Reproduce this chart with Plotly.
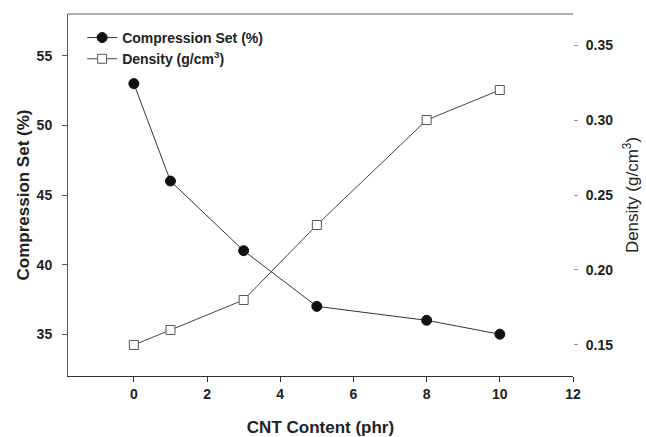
import plotly.graph_objects as go

cnt = [0, 1, 3, 5, 8, 10]
compression_set = [53, 46, 41, 37, 36, 35]
density = [0.15, 0.16, 0.18, 0.23, 0.30, 0.32]

x_ticks = [0, 2, 4, 6, 8, 10, 12]
y1_ticks = [35, 40, 45, 50, 55]
y2_ticks = [0.15, 0.20, 0.25, 0.30, 0.35]
y2_labels = ["0.15", "0.20", "0.25", "0.30", "0.35"]

FONT = "Liberation Sans, Arial, sans-serif"

fig = go.Figure()
fig.add_trace(go.Scatter(
    x=cnt, y=compression_set, name="<b>Compression Set (%)</b>",
    mode="lines+markers",
    line=dict(color="#333333", width=1),
    marker=dict(symbol="circle", size=10, color="#111111",
                line=dict(color="#111111", width=1)),
    yaxis="y"))
fig.add_trace(go.Scatter(
    x=cnt, y=density, name="<b>Density (g/cm<sup>3</sup>)</b>",
    mode="lines+markers",
    line=dict(color="#444444", width=1),
    marker=dict(symbol="square", size=9, color="white",
                line=dict(color="#555555", width=1)),
    yaxis="y2"))

fig.update_layout(
    width=646, height=437,
    margin=dict(l=68, r=73, t=14, b=61),
    paper_bgcolor="white", plot_bgcolor="white",
    font=dict(family=FONT, color="#222222"),
    showlegend=True,
    legend=dict(x=0.028, y=0.978, xanchor="left", yanchor="top",
                bgcolor="rgba(0,0,0,0)", font=dict(size=14, color="#222222"),
                tracegroupgap=0, itemwidth=30),
    xaxis=dict(range=[-1.8, 12], tickvals=x_ticks, ticktext=[str(v) for v in x_ticks],
               showgrid=False, zeroline=False, showline=True, linecolor="#333333",
               linewidth=1, ticks="outside", ticklen=5, tickcolor="#333333",
               automargin=False,
               tickfont=dict(size=14, family=FONT, color="#222222", weight="bold"),
               title=dict(text="<b>CNT Content (phr)</b>", font=dict(size=17), standoff=21)),
    yaxis=dict(range=[32, 58], tickvals=y1_ticks, ticktext=[str(v) for v in y1_ticks],
               showgrid=False, zeroline=False, showline=True, linecolor="#555555",
               linewidth=1, ticks="outside", ticklen=5, tickcolor="#555555",
               ticklabelstandoff=7, automargin=False,
               tickfont=dict(size=14, family=FONT, color="#222222", weight="bold"),
               title=dict(text="<b>Compression Set (%)</b>", font=dict(size=17), standoff=2)),
    yaxis2=dict(range=[0.1293, 0.3707], tickvals=y2_ticks, ticktext=y2_labels,
                overlaying="y", side="right",
                showgrid=False, zeroline=False, showline=False,
                ticks="outside", ticklen=4, tickcolor="#999999",
                ticklabelstandoff=5, automargin=False,
                tickfont=dict(size=14, family=FONT, color="#222222", weight="bold"),
                title=dict(text="Density (g/cm<sup>3</sup>)", font=dict(size=17), standoff=13)),
    shapes=[dict(type="line", xref="paper", yref="paper", x0=0, x1=1, y0=1, y1=1,
                 line=dict(color="#999999", width=1.5))],
)

fig.write_html("out.html", config={"displayModeBar": False},
               post_script="document.body.style.margin='0';document.body.style.padding='0';")
